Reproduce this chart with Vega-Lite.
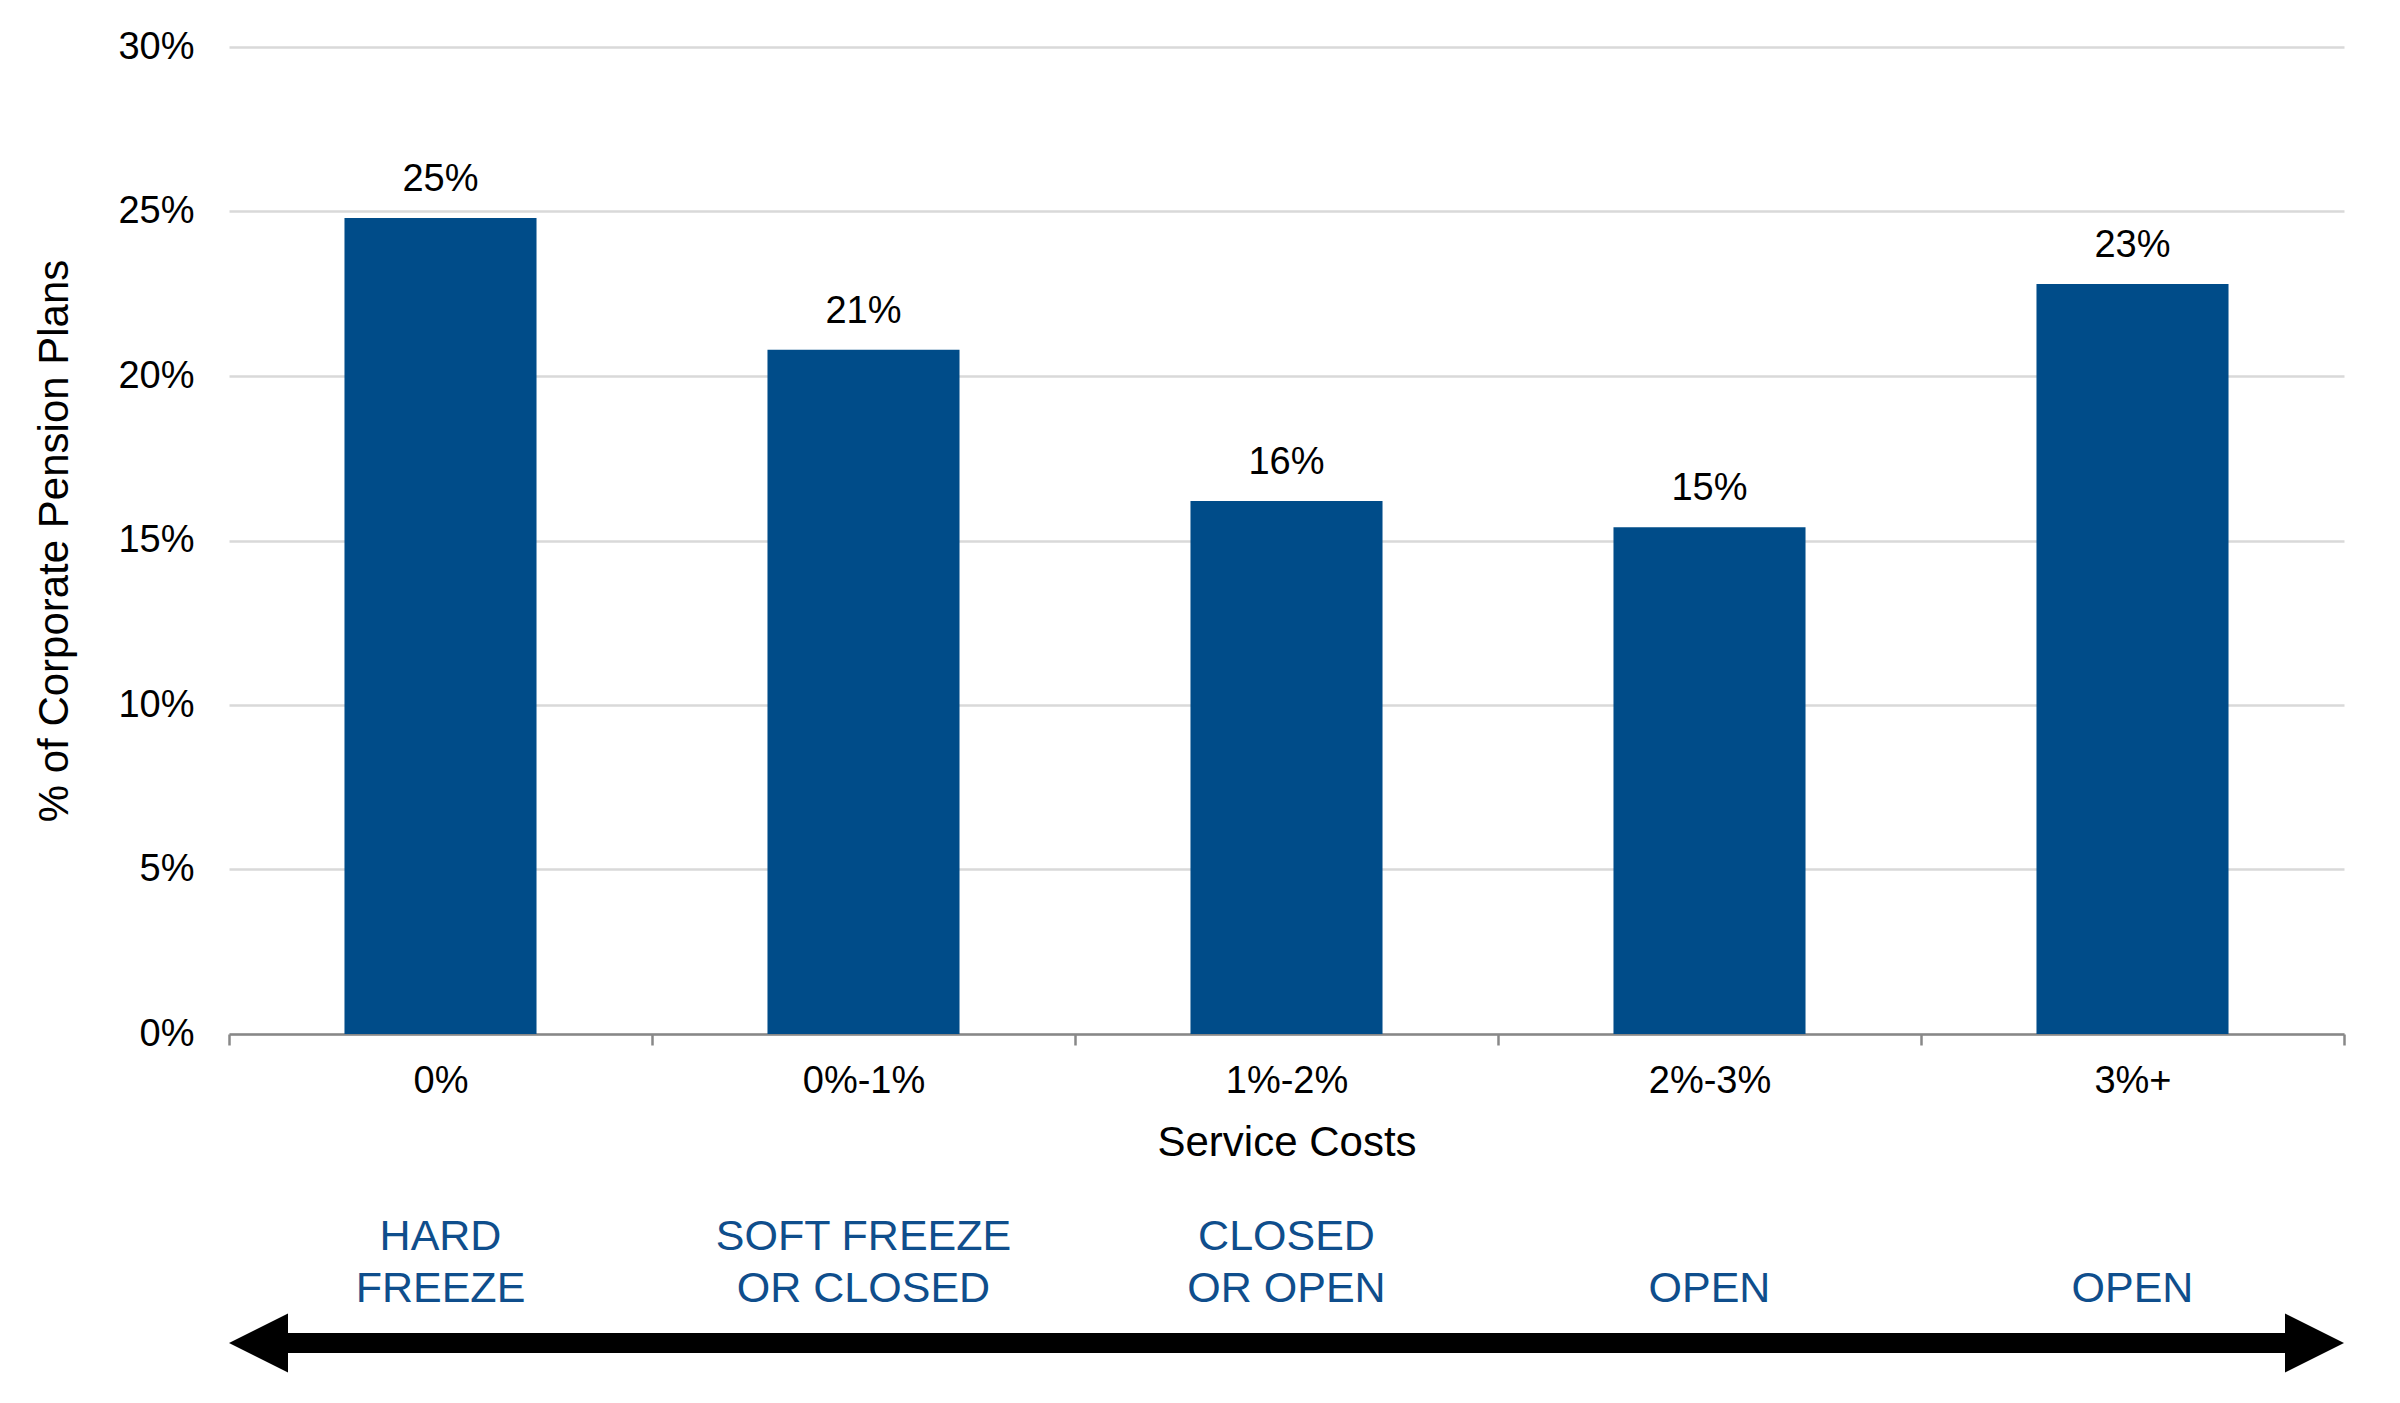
{
  "$schema": "https://vega.github.io/schema/vega-lite/v6.json",
  "background": "white",
  "padding": {"left": 33, "top": 28, "right": 20, "bottom": 10},
  "bounds": "flush",
  "spacing": 261,
  "config": {"view": {"stroke": null}, "font": "Liberation Sans"},
  "datasets": {
    "plans": [
      {"cost": "0%", "share": 0.248},
      {"cost": "0%-1%", "share": 0.208},
      {"cost": "1%-2%", "share": 0.162},
      {"cost": "2%-3%", "share": 0.154},
      {"cost": "3%+", "share": 0.228}
    ],
    "status": [
      {"cost": "0%", "first_line": "HARD", "second_line": "FREEZE"},
      {"cost": "0%-1%", "first_line": "SOFT FREEZE", "second_line": "OR CLOSED"},
      {"cost": "1%-2%", "first_line": "CLOSED", "second_line": "OR OPEN"},
      {"cost": "2%-3%", "first_line": "", "second_line": "OPEN"},
      {"cost": "3%+", "first_line": "", "second_line": "OPEN"}
    ]
  },
  "vconcat": [
    {
      "width": 2115,
      "height": 987,
      "data": {"name": "plans"},
      "encoding": {
        "x": {
          "field": "cost", "type": "nominal", "sort": null,
          "scale": {"paddingInner": 0, "paddingOuter": 0},
          "axis": {
            "title": "Service Costs", "titleFontSize": 42, "titleFontWeight": "normal", "titleColor": "black", "titlePadding": 22,
            "labelFontSize": 38, "labelColor": "black", "labelPadding": 17, "labelAngle": 0,
            "domainColor": "#888888", "domainWidth": 2.5, "tickColor": "#888888", "tickWidth": 2.5, "tickSize": 11,
            "tickBand": "extent", "grid": false
          }
        },
        "y": {
          "field": "share", "type": "quantitative",
          "scale": {"domain": [0, 0.3], "nice": false},
          "axis": {
            "title": "% of Corporate Pension Plans", "titleFontSize": 42, "titleFontWeight": "normal", "titleColor": "black", "titlePadding": 41,
            "labelFontSize": 38, "labelColor": "black", "labelPadding": 35,
            "ticks": false, "domain": false, "grid": true, "gridColor": "#D9D9D9", "gridWidth": 2.5,
            "values": [0, 0.05, 0.1, 0.15, 0.2, 0.25, 0.3], "format": ".0%"
          }
        }
      },
      "layer": [
        {"mark": {"type": "bar", "color": "#004C89", "width": {"band": 0.454}}},
        {
          "mark": {"type": "text", "fontSize": 38, "dy": -27, "baseline": "alphabetic", "color": "black"},
          "encoding": {"text": {"field": "share", "type": "quantitative", "format": ".0%"}}
        }
      ]
    },
    {
      "width": 2115,
      "height": 64,
      "resolve": {"scale": {"x": "independent"}},
      "layer": [
        {
          "data": {"name": "status"},
          "mark": {"type": "text", "fontSize": 43, "baseline": "bottom", "color": "#0F4E8C"},
          "encoding": {
            "x": {"field": "cost", "type": "nominal", "sort": null, "axis": null},
            "y": {"datum": "label", "type": "nominal", "scale": {"type": "point", "domain": ["label", "arrow"], "padding": 0.5}, "axis": null},
            "text": {"field": "second_line", "type": "nominal"}
          }
        },
        {
          "data": {"name": "status"},
          "mark": {"type": "text", "fontSize": 43, "baseline": "bottom", "dy": -52, "color": "#0F4E8C"},
          "encoding": {
            "x": {"field": "cost", "type": "nominal", "sort": null, "axis": null},
            "y": {"datum": "label", "type": "nominal", "axis": null},
            "text": {"field": "first_line", "type": "nominal"}
          }
        },
        {
          "data": {"values": [{"part": "shaft"}]},
          "mark": {"type": "rule", "color": "black", "strokeWidth": 20},
          "encoding": {
            "x": {"datum": 0.1, "type": "quantitative", "scale": {"domain": [0, 5], "nice": false, "zero": false}, "axis": null},
            "x2": {"datum": 4.9},
            "y": {"datum": "arrow", "type": "nominal", "axis": null}
          }
        },
        {
          "data": {"values": [{"part": "left head"}]},
          "mark": {"type": "point", "shape": "M0,0L2,-1L2,1Z", "size": 3481, "filled": true, "color": "black", "opacity": 1, "strokeWidth": 0},
          "encoding": {
            "x": {"datum": 0, "type": "quantitative", "scale": {"domain": [0, 5], "nice": false, "zero": false}, "axis": null},
            "y": {"datum": "arrow", "type": "nominal", "axis": null}
          }
        },
        {
          "data": {"values": [{"part": "right head"}]},
          "mark": {"type": "point", "shape": "M0,0L-2,-1L-2,1Z", "size": 3481, "filled": true, "color": "black", "opacity": 1, "strokeWidth": 0},
          "encoding": {
            "x": {"datum": 5, "type": "quantitative", "scale": {"domain": [0, 5], "nice": false, "zero": false}, "axis": null},
            "y": {"datum": "arrow", "type": "nominal", "axis": null}
          }
        }
      ]
    }
  ]
}
